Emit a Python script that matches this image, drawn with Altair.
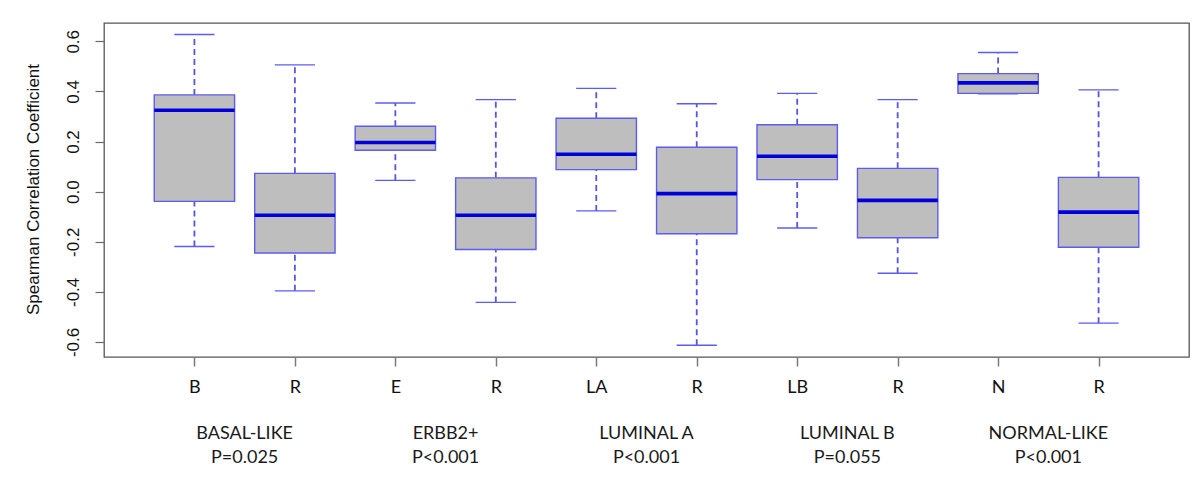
import altair as alt
import pandas as pd

# ---- data ----
tick_labels = ["B", "R", "E", "R", "LA", "R", "LB", "R", "N", "R"]
positions = [1, 2, 3, 4, 5, 6, 7, 8, 9, 10]
whisker_low = [-0.219, -0.396, 0.045, -0.442, -0.077, -0.613, -0.145, -0.326, 0.390, -0.525]
q1 = [-0.039, -0.245, 0.165, -0.231, 0.088, -0.168, 0.048, -0.184, 0.392, -0.222]
median = [0.325, -0.094, 0.196, -0.094, 0.149, -0.008, 0.141, -0.035, 0.434, -0.082]
q3 = [0.386, 0.073, 0.261, 0.055, 0.293, 0.177, 0.267, 0.093, 0.471, 0.057]
whisker_high = [0.627, 0.506, 0.354, 0.367, 0.412, 0.351, 0.392, 0.367, 0.555, 0.406]

groups = ["BASAL-LIKE", "ERBB2+", "LUMINAL A", "LUMINAL B", "NORMAL-LIKE"]
pvalues = ["P=0.025", "P<0.001", "P<0.001", "P=0.055", "P<0.001"]
group_centers = [1.5, 3.5, 5.5, 7.5, 9.5]
y_ticks = [-0.6, -0.4, -0.2, 0.0, 0.2, 0.4, 0.6]

df = pd.DataFrame({
    "pos": positions, "label": tick_labels, "low": whisker_low, "q1": q1,
    "median": median, "q3": q3, "high": whisker_high,
})
gdf = pd.DataFrame({"group": groups, "p": pvalues, "center": group_centers})

BOX_STROKE = "#5c5cf0"
DASH = "#5656dc"
MED = "#0000dc"
FRAME = "#555555"

label_js = "[" + ",".join("'%s'" % s for s in tick_labels) + "]"
x_axis = alt.Axis(
    values=positions, labelExpr=label_js + "[datum.value-1]", title=None,
    grid=False, domain=False, tickSize=9, tickColor="#7a7a7a", tickWidth=1.5,
    labelFont="Lato", labelFontSize=18, labelColor="#111", labelPadding=12,
)
x_scale = alt.Scale(domain=[0.1, 10.9], nice=False, zero=False)
y_axis = alt.Axis(
    values=y_ticks, labelExpr="replace(format(datum.value, '.1f'), '\u2212', '-')",
    labelAngle=270, labelAlign="center", labelBaseline="bottom",
    title="Spearman Correlation Coefficient", titleFont="Liberation Sans",
    titleFontSize=17, titleFontWeight="normal", titleColor="#111",
    titleAngle=270, titleX=-71, titleY=166, titleAlign="center", titleBaseline="middle",
    grid=False, domain=False, tickSize=9, tickColor="#6a6a6a", tickWidth=1.2,
    labelFont="Liberation Sans", labelFontSize=17, labelColor="#111", labelPadding=13,
)
y_scale = alt.Scale(domain=[-0.66, 0.673], nice=False, zero=False)


def X(field):
    return alt.X(field, type="quantitative", scale=x_scale, axis=x_axis)


def Y(field):
    return alt.Y(field, type="quantitative", scale=y_scale, axis=y_axis)


base = alt.Chart(df).transform_calculate(
    bl="datum.pos - 0.4", br="datum.pos + 0.4",
    cl="datum.pos - 0.2", cr="datum.pos + 0.2",
)

whisk_lo = base.mark_rule(color=DASH, strokeWidth=1.8, strokeDash=[6, 4]).encode(
    x=X("pos"), y=Y("low"), y2="q1")
whisk_hi = base.mark_rule(color=DASH, strokeWidth=1.8, strokeDash=[6, 4]).encode(
    x=X("pos"), y=Y("q3"), y2="high")
cap_lo = base.mark_rule(color=BOX_STROKE, strokeWidth=1.4).encode(
    x=X("cl"), x2="cr", y=Y("low"))
cap_hi = base.mark_rule(color=BOX_STROKE, strokeWidth=1.4).encode(
    x=X("cl"), x2="cr", y=Y("high"))
box = base.mark_rect(fill="#bebebe", stroke=BOX_STROKE, strokeWidth=1.4).encode(
    x=X("bl"), x2="br", y=Y("q1"), y2="q3")
med = base.mark_rule(color=MED, strokeWidth=3.6).encode(
    x=X("bl"), x2="br", y=Y("median"))

gtext = alt.Chart(gdf).mark_text(font="Lato", fontSize=18, color="#1a1a1a",
                                 baseline="alphabetic", align="center").encode(
    x=X("center"), y=alt.value(416), text="group")
ptext = alt.Chart(gdf).mark_text(font="Lato", fontSize=18, color="#1a1a1a",
                                 baseline="alphabetic", align="center").encode(
    x=X("center"), y=alt.value(440), text="p")

chart = alt.layer(whisk_lo, whisk_hi, cap_lo, cap_hi, box, med, gtext, ptext).properties(
    width=1085, height=334,
    autosize=alt.AutoSizeParams(type="none"),
    padding={"left": 96, "top": 15, "right": 3, "bottom": 110},
    background="white",
).configure_view(stroke=FRAME, strokeWidth=1.3)

chart.save("out.html", embed_options={"renderer": "svg", "actions": False})
